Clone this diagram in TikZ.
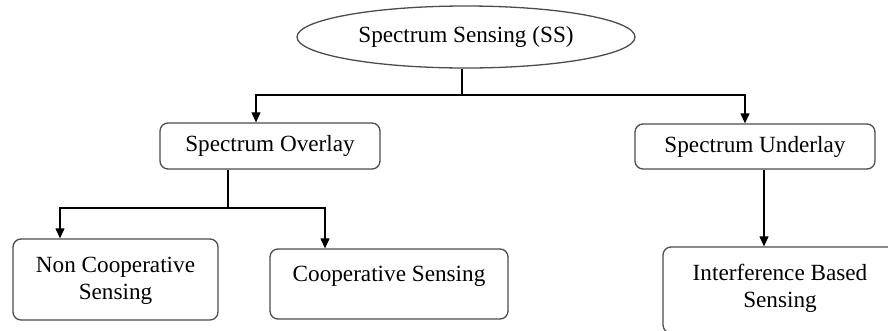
\documentclass[tikz,border=0pt]{standalone}
\usepackage{fontspec}
\setmainfont{Liberation Serif}
\usetikzlibrary{arrows.meta,shapes.geometric}
\begin{document}
\begin{tikzpicture}[x=1pt,y=-1pt,
  every node/.style={font=\fontsize{23.2}{27}\selectfont, inner sep=0pt, align=center},
  boxnode/.style={draw=black!70, line width=1.3pt, rounded corners=8pt},
  ovalnode/.style={draw=black!70, line width=1.3pt, ellipse},
  conn/.style={draw=black, line width=1.1pt},
  arr/.style={conn, -{Triangle[length=10pt,width=9pt]}}]
\useasboundingbox (0,0) rectangle (888,330);
\node[ovalnode, minimum width=338, minimum height=62] (ss) at (466,37) {Spectrum Sensing (SS)};
\node[boxnode, minimum width=220, minimum height=46] (ov) at (270,146) {Spectrum Overlay};
\node[boxnode, minimum width=240, minimum height=45] (un) at (755,146.5) {Spectrum Underlay};
\node[boxnode, minimum width=205, minimum height=81] (nc) at (115.5,279.5) {};
\node at (nc.center) [yshift=-1] {Non Cooperative\\Sensing};
\node[boxnode, minimum width=238, minimum height=70] (co) at (389,284) {};
\node at (389,276) {Cooperative Sensing};
\node[boxnode, minimum width=234, minimum height=86] (ib) at (780,290) {};
\node at (780,288) {Interference Based\\Sensing};
\coordinate (j1) at (462,95);
\coordinate (j2) at (228,208);
\draw[conn] (ss.south -| j1) -- (j1);
\draw[arr] (j1) -- (256,95) -- (ov.north -| 256,0);
\draw[arr] (j1) -- (745,95) -- (un.north -| 745,0);
\draw[conn] (ov.south -| j2) -- (j2);
\draw[arr] (j2) -- (60,208) -- (nc.north -| 60,0);
\draw[arr] (j2) -- (325,208) -- (co.north -| 325,0);
\draw[arr] (un.south -| 764,0) -- (ib.north -| 764,0);
\end{tikzpicture}
\end{document}
